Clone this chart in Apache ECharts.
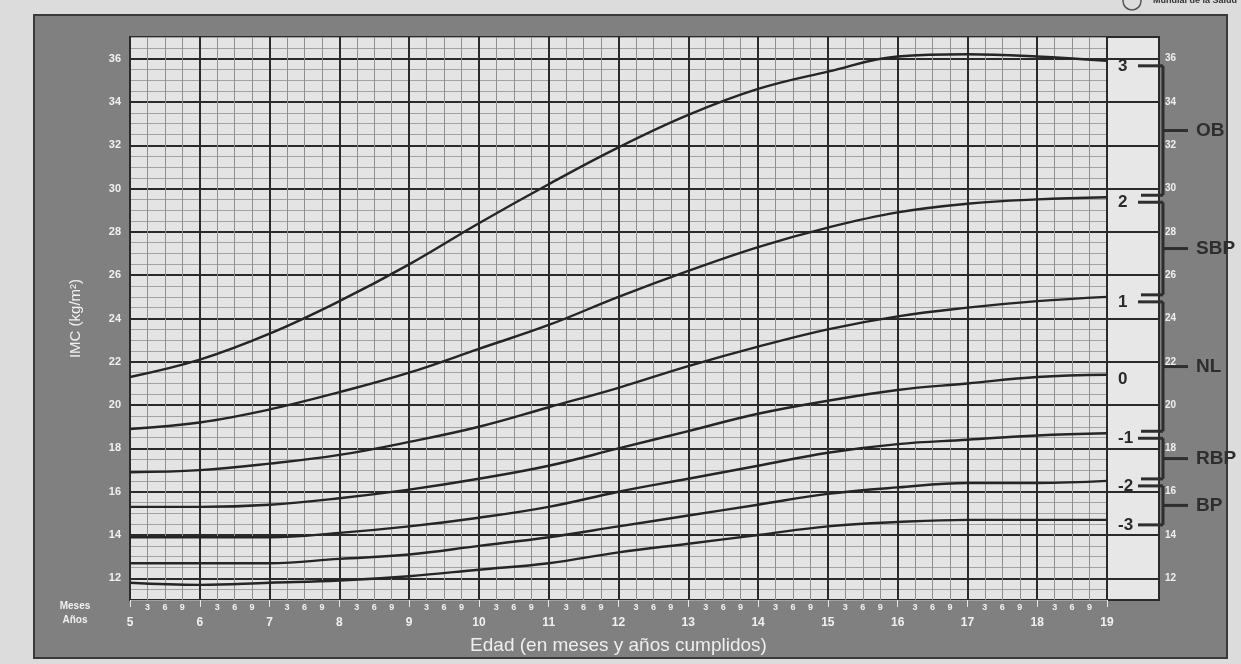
<!DOCTYPE html>
<html>
<head>
<meta charset="utf-8">
<script src="https://cdn.jsdelivr.net/npm/echarts@6/dist/echarts.min.js"></script>
<style>
html,body{margin:0;padding:0;background:#dcdcdc;}
#c{width:1241px;height:664px;}
</style>
</head>
<body>
<div id="c"></div>
<script>
// ---- data ----
const ages = [5, 6, 7, 8, 9, 10, 11, 12, 13, 14, 15, 16, 17, 18, 19];
const sdLabels = ['3', '2', '1', '0', '-1', '-2', '-3'];
const sdP3 = [21.3, 22.1, 23.3, 24.8, 26.5, 28.4, 30.2, 31.9, 33.4, 34.6, 35.4, 36.1, 36.2, 36.1, 35.9];
const sdP2 = [18.9, 19.2, 19.8, 20.6, 21.5, 22.6, 23.7, 25.0, 26.2, 27.3, 28.2, 28.9, 29.3, 29.5, 29.6];
const sdP1 = [16.9, 17.0, 17.3, 17.7, 18.3, 19.0, 19.9, 20.8, 21.8, 22.7, 23.5, 24.1, 24.5, 24.8, 25.0];
const sd0  = [15.3, 15.3, 15.4, 15.7, 16.1, 16.6, 17.2, 18.0, 18.8, 19.6, 20.2, 20.7, 21.0, 21.3, 21.4];
const sdM1 = [13.9, 13.9, 13.9, 14.1, 14.4, 14.8, 15.3, 16.0, 16.6, 17.2, 17.8, 18.2, 18.4, 18.6, 18.7];
const sdM2 = [12.7, 12.7, 12.7, 12.9, 13.1, 13.5, 13.9, 14.4, 14.9, 15.4, 15.9, 16.2, 16.4, 16.4, 16.5];
const sdM3 = [11.8, 11.7, 11.8, 11.9, 12.1, 12.4, 12.7, 13.2, 13.6, 14.0, 14.4, 14.6, 14.7, 14.7, 14.7];
const yTickLabels = [12, 14, 16, 18, 20, 22, 24, 26, 28, 30, 32, 34, 36];
const monthLabels = ['3', '6', '9'];
const classNames = ['OB', 'SBP', 'NL', 'RBP', 'BP'];
const classRanges = [[0, 1], [1, 2], [2, 4], [4, 5], [5, 6]]; // indices into sdLabels

const sdSeries = [sdP3, sdP2, sdP1, sd0, sdM1, sdM2, sdM3];

const FONT = 'Liberation Sans, Arial, sans-serif';
const DARK = '#2a2a2a';
const MINOR = '#a2a2a2';
const TXT = '#f1f1f1';

const evenFmt = v => (yTickLabels.indexOf(v) >= 0) ? String(v) : '';
const monthFmt = v => {
  const q = Math.round((v - Math.floor(v)) * 4);
  return q > 0 ? monthLabels[q - 1] : '';
};

const chart = echarts.init(document.getElementById('c'), null, {renderer: 'canvas'});

const series = sdSeries.map((arr, i) => ({
  type: 'line',
  name: sdLabels[i],
  xAxisIndex: 0,
  yAxisIndex: 0,
  data: ages.map((a, k) => [a, arr[k]]),
  smooth: 0.4,
  showSymbol: false,
  silent: true,
  z: 5,
  lineStyle: {color: '#252525', width: 2.4},
  endLabel: {
    show: true,
    formatter: sdLabels[i],
    color: DARK,
    fontSize: 17,
    fontWeight: 'bold',
    fontFamily: FONT,
    distance: 11,
    offset: [0, 5]
  }
}));
series.push({type: 'scatter', xAxisIndex: 3, yAxisIndex: 1, data: [], silent: true});

chart.setOption({
  animation: false,
  backgroundColor: '#dcdcdc',
  textStyle: {fontFamily: FONT},
  grid: [
    {left: 130, right: 134, top: 37, bottom: 64, show: true, backgroundColor: '#e4e4e4', borderColor: DARK, borderWidth: 2},
    {left: 1107, right: 82, top: 37, bottom: 64, show: true, backgroundColor: '#e7e7e7', borderColor: DARK, borderWidth: 2}
  ],
  xAxis: [
    {
      gridIndex: 0, type: 'value', min: 5, max: 19, interval: 1,
      axisLine: {show: false},
      axisTick: {show: true, length: 7, lineStyle: {color: '#e6e6e6', width: 1}},
      axisLabel: {show: false},
      splitLine: {show: true, lineStyle: {color: DARK, width: 2}},
      minorTick: {show: false, splitNumber: 4},
      minorSplitLine: {show: true, lineStyle: {color: '#8f8f8f', width: 1}}
    },
    {
      gridIndex: 0, type: 'value', min: 5, max: 19, interval: 0.25, position: 'bottom',
      axisLine: {show: false}, axisTick: {show: false}, splitLine: {show: false},
      axisLabel: {formatter: monthFmt, color: TXT, fontSize: 9, fontWeight: 'bold', margin: 3}
    },
    {
      gridIndex: 0, type: 'value', min: 5, max: 19, interval: 1, position: 'bottom', offset: 14,
      axisLine: {show: false}, axisTick: {show: false}, splitLine: {show: false},
      axisLabel: {color: TXT, fontSize: 12, fontWeight: 'bold', margin: 3},
      name: 'Edad (en meses y años cumplidos)', nameLocation: 'middle', nameGap: 22,
      nameTextStyle: {color: '#eeeeee', fontSize: 19}
    },
    {gridIndex: 1, type: 'value', min: 19, max: 19.75, show: false}
  ],
  yAxis: [
    {
      gridIndex: 0, type: 'value', min: 11, max: 37, interval: 0.5,
      axisLine: {show: false}, axisTick: {show: false},
      axisLabel: {formatter: evenFmt, color: TXT, fontSize: 11, fontWeight: 'bold', margin: 9},
      splitLine: {show: true, lineStyle: {color: [MINOR, MINOR, DARK, MINOR], width: 1}},
      name: 'IMC (kg/m²)', nameLocation: 'middle', nameGap: 47, nameRotate: 90,
      nameTextStyle: {color: '#f0f0f0', fontSize: 15}
    },
    {
      gridIndex: 1, type: 'value', min: 11, max: 37, interval: 0.5, position: 'right',
      axisLine: {show: false}, axisTick: {show: false},
      axisLabel: {formatter: evenFmt, color: '#efefef', fontSize: 10, fontWeight: 'bold', margin: 6},
      splitLine: {show: true, lineStyle: {color: ['rgba(0,0,0,0)', 'rgba(0,0,0,0)', DARK, 'rgba(0,0,0,0)'], width: 2}}
    },
    {
      gridIndex: 0, type: 'value', min: 11, max: 37, interval: 0.5,
      axisLine: {show: false}, axisTick: {show: false}, axisLabel: {show: false},
      splitLine: {show: true, lineStyle: {color: ['rgba(0,0,0,0)', 'rgba(0,0,0,0)', DARK, 'rgba(0,0,0,0)'], width: 2}}
    }
  ],
  series: series
});

// ---- annotations: braces and class names, positioned via the chart's scale ----
const lastAge = ages[ages.length - 1];
const labelY = i => chart.convertToPixel({gridIndex: 0}, [lastAge, sdSeries[i][sdSeries[i].length - 1]])[1] + 5;
const barX = 1163;
const BR = '#2e2e2e';
const g = [];

g.push({type: 'rect', z: -100, shape: {x: 34, y: 15, width: 1193, height: 643},
  style: {fill: '#808080', stroke: '#3a3a3a', lineWidth: 2}});
g.push({type: 'text', z: 100, x: 75, y: 606, style: {text: 'Meses', fill: TXT, font: 'bold 10px ' + FONT, align: 'center', verticalAlign: 'middle'}});
g.push({type: 'text', z: 100, x: 75, y: 620, style: {text: 'Años', fill: TXT, font: 'bold 10px ' + FONT, align: 'center', verticalAlign: 'middle'}});
g.push({type: 'text', z: 100, x: 1237, y: 1, style: {text: 'Mundial de la Salud', fill: '#333', font: 'bold 9px ' + FONT, align: 'right', verticalAlign: 'middle'}});
g.push({type: 'circle', z: 100, shape: {cx: 1132, cy: 1, r: 9}, style: {fill: 'none', stroke: '#555', lineWidth: 1.5}});

// connectors from each SD label (except 0) to the brace bar
sdLabels.forEach((lab, i) => {
  if (lab === '0') return;
  const y = labelY(i);
  g.push({type: 'line', z: 100, shape: {x1: 1138, y1: y, x2: barX, y2: y}, style: {stroke: BR, lineWidth: 3}});
});

classNames.forEach((name, c) => {
  const [a, b] = classRanges[c];
  const last = c === classNames.length - 1;
  const yTop = labelY(a);
  const yBot = labelY(b) - (last ? 0 : 7);
  const mid = (yTop + yBot) / 2;
  g.push({type: 'line', z: 100, shape: {x1: barX, y1: yTop, x2: barX, y2: yBot}, style: {stroke: BR, lineWidth: 3}});
  if (!last) g.push({type: 'line', z: 100, shape: {x1: barX - 22, y1: yBot, x2: barX, y2: yBot}, style: {stroke: BR, lineWidth: 3}});
  g.push({type: 'line', z: 100, shape: {x1: barX, y1: mid, x2: barX + 25, y2: mid}, style: {stroke: BR, lineWidth: 3}});
  g.push({type: 'text', z: 100, x: barX + 33, y: mid, style: {text: name, fill: BR, font: 'bold 19px ' + FONT, align: 'left', verticalAlign: 'middle'}});
});

chart.setOption({graphic: {elements: g}});
</script>
</body>
</html>
